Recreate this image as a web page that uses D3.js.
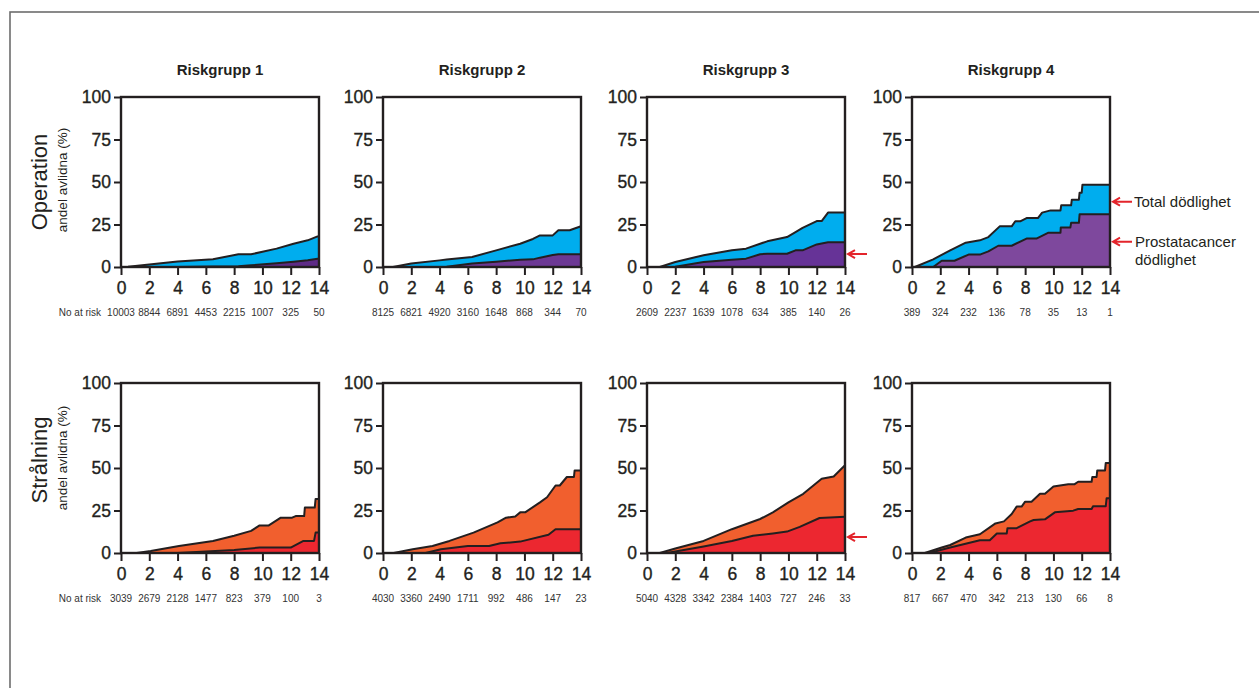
<!DOCTYPE html>
<html>
<head>
<meta charset="utf-8">
<script src="https://cdn.jsdelivr.net/npm/d3@7"></script>
<style>
  body { margin: 0; background: #fff; }
  svg { display: block; font-family: "Liberation Sans", Arial, sans-serif; }
</style>
</head>
<body>
<svg id="chart" width="1259" height="688"></svg>
<script>
const groups = ['Riskgrupp 1', 'Riskgrupp 2', 'Riskgrupp 3', 'Riskgrupp 4'];
const treatments = ['Operation', 'Strålning'];
const xTicks = [0, 2, 4, 6, 8, 10, 12, 14];
const yTicks = [0, 25, 50, 75, 100];

// numbers at risk at years 0,2,...,14
const opAtRisk = [
    [10003, 8844, 6891, 4453, 2215, 1007, 325, 50],
    [8125, 6821, 4920, 3160, 1648, 868, 344, 70],
    [2609, 2237, 1639, 1078, 634, 385, 140, 26],
    [389, 324, 232, 136, 78, 35, 13, 1]
];
const radAtRisk = [
    [3039, 2679, 2128, 1477, 823, 379, 100, 3],
    [4030, 3360, 2490, 1711, 992, 486, 147, 23],
    [5040, 4328, 3342, 2384, 1403, 727, 246, 33],
    [817, 667, 470, 342, 213, 130, 66, 8]
];

// Operation: total mortality (time, %)
const opTotalT = [
    [0, 0.5, 2, 4, 6.5, 8.3, 9.2, 11, 12.2, 13.2, 13.9, 14],
    [0, 0.7, 2, 4, 4.5, 6.3, 8, 9.7, 10.6, 11.1, 12, 12.4, 13.2, 14],
    [0, 0.9, 2, 4, 6, 7, 8, 8.5, 9.9, 10.5, 11, 12, 12.35, 12.8, 14],
    [0, 0.2, 1.5, 2.7, 3.8, 4.8, 5.4, 6.2, 7.05, 7.3, 7.65, 8.1, 8.9, 9.2, 9.8, 10.5, 10.55, 11.25, 11.3, 11.8, 11.85, 12.0, 12.05, 14]
];
const opTotalV = [
    [0, 0.2, 1.5, 3.2, 4.5, 7.5, 7.5, 10.8, 13.7, 15.7, 18, 18],
    [0, 0, 2, 3.9, 4.4, 5.9, 9.8, 13.7, 16.5, 18.6, 18.6, 21.6, 21.6, 24],
    [0, 0, 2.9, 6.9, 9.8, 10.8, 13.7, 15.1, 17.6, 20.5, 23, 27, 27, 32, 32],
    [0, 0, 4.5, 9.8, 14.3, 15.7, 17.6, 23.9, 23.9, 26.9, 26.9, 28.8, 28.8, 32, 33.3, 33.3, 36.3, 36.3, 39.6, 39.6, 43.7, 43.7, 48.4, 48.4]
];
// Operation: prostate cancer mortality
const opCancerT = [
    [0, 0.5, 2, 4, 6.5, 8.3, 9.2, 11, 12.2, 13.2, 13.9, 14],
    [0, 0.7, 2, 4, 4.5, 6.3, 8, 9.7, 10.6, 11.1, 12, 12.4, 13.2, 14],
    [0, 0.9, 2, 4, 6, 7, 8, 8.5, 9.9, 10.5, 11, 12, 12.35, 12.8, 14],
    [0, 1.5, 2.1, 3, 4, 4.8, 5.4, 6.1, 7.05, 8.1, 8.8, 9.65, 10.5, 10.52, 11.2, 11.25, 11.8, 11.85, 14]
];
const opCancerV = [
    [0, 0, 0, 0, 0.3, 0.5, 1, 2.2, 3.1, 4, 4.8, 4.8],
    [0, 0, 0, 0, 0.2, 2, 3.1, 4.3, 4.5, 5.5, 7, 7.5, 7.5, 7.5],
    [0, 0, 0.2, 2.9, 4.3, 4.9, 7.5, 7.8, 7.8, 9.8, 9.8, 13.3, 13.8, 14.5, 14.5],
    [0, 0, 3.7, 3.7, 7.3, 7.3, 9.2, 12.5, 12.5, 16.7, 16.7, 20.2, 20.2, 23.3, 23.3, 26, 26, 31, 31]
];

// Strålning: total mortality
const radTotalT = [
    [0, 1.1, 2.1, 4.1, 6.5, 8, 9.2, 9.8, 10.45, 11.3, 12.1, 12.35, 12.95, 13.0, 13.7, 13.76, 14],
    [0, 0.75, 2.1, 3.5, 4.7, 6.4, 8.1, 8.7, 9.35, 9.7, 10.05, 11.1, 11.6, 12.2, 12.5, 13, 13.5, 13.55, 14],
    [0, 0.9, 2, 4, 6, 8, 8.9, 10, 11.05, 12.35, 13.2, 14],
    [0, 0.9, 2.1, 2.7, 3.8, 4.8, 5.9, 6.5, 7.05, 7.4, 7.75, 8.0, 8.45, 9.05, 9.4, 10, 11.05, 11.5, 11.75, 12.7, 12.75, 13.05, 13.1, 13.65, 13.7, 14]
];
const radTotalV = [
    [0, 0, 1.2, 4.1, 7.1, 10.1, 13, 16.2, 16.2, 20.8, 20.8, 21.7, 21.7, 26.7, 26.7, 31.8, 31.8],
    [0, 0, 2.2, 4.1, 7.1, 12, 18, 20.8, 21.5, 23.9, 23.9, 29.8, 32.8, 39.7, 39.7, 44.7, 44.7, 48.6, 48.6],
    [0, 0, 2.6, 7.1, 14, 20, 23.9, 29.8, 34.8, 43.7, 45, 51.6],
    [0, 0, 3.2, 4.7, 9.1, 11, 17.4, 18.6, 22.9, 27.3, 27.3, 30.2, 30.2, 34.8, 34.8, 39.1, 40.5, 40.5, 41.9, 41.9, 44.7, 44.7, 48.6, 48.6, 53, 53]
];
// Strålning: prostate cancer mortality
const radCancerT = [
    [0, 4, 8, 9.8, 12, 12.9, 13.65, 13.76, 14],
    [0, 3, 4.1, 6, 7.5, 8.3, 9.7, 11.7, 12.2, 14],
    [0, 1.4, 4, 6, 7.5, 8.9, 9.9, 10.8, 12.2, 14],
    [0, 1.2, 2.7, 4.8, 5.5, 6.0, 6.7, 6.75, 7.4, 8.35, 8.6, 9.4, 10.1, 11.4, 11.75, 12.7, 12.8, 13.7, 13.76, 14]
];
const radCancerV = [
    [0, 0, 1.8, 3.2, 3.2, 7.1, 7.1, 12, 12],
    [0, 0, 2.2, 4.1, 4.1, 5.7, 6.7, 10.7, 14, 14],
    [0, 0, 3.8, 7.1, 10.1, 11.5, 12.6, 15.4, 20.6, 21.3],
    [0, 0, 3.2, 7.5, 7.5, 11.5, 11.5, 14.6, 14.6, 18.6, 19.4, 19.8, 23.9, 24.9, 25.9, 25.9, 27.5, 27.5, 32.2, 32.2]
];

// arrows: [row, col, value %]
const arrowMarks = [[0, 2, 7.6], [1, 2, 9.4], [0, 3, 38.4], [0, 3, 14.9]];

const totalColors = ['#00adee', '#f15f2e'];
const cancerColors = [['#5e2b86', '#6c3894', '#663397', '#7e489d'], ['#ec2730', '#ec2730', '#ec2730', '#ec2730']];
const ink = '#231f20';
const arrowRed = '#e3242b';

const svg = d3.select('#chart');
const colX = [121, 383, 647, 912], pw = 198;
const rowY = [97, 383], ph = 170;

svg.append('rect')
    .attr('x', 10).attr('y', 12)
    .attr('width', 1400).attr('height', 800)
    .attr('fill', 'none')
    .attr('stroke', '#6d6d6d')
    .attr('stroke-width', 1.6);

const rows = [
    {total: [opTotalT, opTotalV], cancer: [opCancerT, opCancerV], risk: opAtRisk},
    {total: [radTotalT, radTotalV], cancer: [radCancerT, radCancerV], risk: radAtRisk}
];

const scales = [];

rows.forEach((row, r) => {
    scales[r] = [];
    groups.forEach((g, c) => {
        let x = d3.scaleLinear().domain([0, 14]).range([colX[c], colX[c] + pw]);
        let y = d3.scaleLinear().domain([0, 100]).range([rowY[r] + ph, rowY[r]]);
        scales[r][c] = {x, y};

        let totalData = row.total[0][c].map((t, i) => [t, row.total[1][c][i]]);
        let cancerData = row.cancer[0][c].map((t, i) => [t, row.cancer[1][c][i]]);

        let area = d3.area().x(d => x(d[0])).y0(y(0)).y1(d => y(d[1]));
        let line = d3.line().x(d => x(d[0])).y(d => y(d[1]));

        svg.append('path').attr('d', area(totalData)).attr('fill', totalColors[r]);
        svg.append('path').attr('d', area(cancerData)).attr('fill', cancerColors[r][c]);
        [totalData, cancerData].forEach(dd => {
            svg.append('path').attr('d', line(dd))
                .attr('fill', 'none').attr('stroke', ink)
                .attr('stroke-width', 2).attr('stroke-linejoin', 'round');
        });

        svg.append('rect')
            .attr('x', x(0)).attr('y', y(100))
            .attr('width', pw).attr('height', ph)
            .attr('fill', 'none').attr('stroke', ink).attr('stroke-width', 2.4);

        let xAxis = d3.axisBottom(x).tickValues(xTicks).tickSize(8).tickPadding(7);
        let yAxis = d3.axisLeft(y).tickValues(yTicks).tickSize(7).tickPadding(3);

        let gx = svg.append('g').attr('transform', `translate(0, ${y(0)})`).call(xAxis);
        let gy = svg.append('g').attr('transform', `translate(${x(0)}, 0)`).call(yAxis);
        [gx, gy].forEach(ax => {
            ax.select('.domain').remove();
            ax.selectAll('line').attr('stroke', ink).attr('stroke-width', 2);
            ax.selectAll('text').attr('fill', ink)
                .attr('stroke', ink).attr('stroke-width', 0.35)
                .style('font-size', '17.5px')
                .style('font-family', '"Liberation Sans", Arial, sans-serif');
        });

        if (r === 0) {
            svg.append('text')
                .attr('x', x(7)).attr('y', 75)
                .attr('text-anchor', 'middle')
                .attr('font-weight', 'bold').attr('font-size', 15)
                .attr('fill', ink)
                .text(g);
        }

        svg.append('g').selectAll('text')
            .data(row.risk[c])
            .join('text')
            .attr('x', (d, i) => x(xTicks[i]))
            .attr('y', y(0) + 49)
            .attr('text-anchor', 'middle')
            .attr('font-size', 10)
            .attr('fill', '#333')
            .text(d => d);

        if (c === 0) {
            svg.append('text')
                .attr('x', 101).attr('y', y(0) + 49)
                .attr('text-anchor', 'end')
                .attr('font-size', 10)
                .attr('fill', '#333')
                .text('No at risk');
        }
    });

    let cy = r === 0 ? 182 : 460;
    svg.append('text')
        .attr('transform', `translate(47, ${cy}) rotate(-90)`)
        .attr('text-anchor', 'middle')
        .attr('font-size', 22).attr('fill', ink)
        .text(treatments[r]);
    svg.append('text')
        .attr('transform', `translate(67, ${cy - 2}) rotate(-90)`)
        .attr('text-anchor', 'middle')
        .attr('font-size', 13.5).attr('fill', ink)
        .text('andel avlidna (%)');
});

arrowMarks.forEach(a => {
    let s = scales[a[0]][a[1]];
    let x0 = s.x(14) + 3, yy = s.y(a[2]);
    svg.append('path')
        .attr('d', `M${x0 + 19},${yy}H${x0}M${x0 + 7},${yy - 4}L${x0},${yy}L${x0 + 7},${yy + 4}`)
        .attr('fill', 'none').attr('stroke', arrowRed).attr('stroke-width', 2);
});

let s4 = scales[0][3];
svg.append('text')
    .attr('x', 1134).attr('y', s4.y(38.4) + 5)
    .attr('font-size', 15).attr('fill', ink)
    .text('Total dödlighet');
svg.append('text')
    .attr('x', 1135).attr('y', s4.y(14.9) + 5)
    .attr('font-size', 15).attr('fill', ink)
    .text('Prostatacancer');
svg.append('text')
    .attr('x', 1135).attr('y', s4.y(14.9) + 23)
    .attr('font-size', 15).attr('fill', ink)
    .text('dödlighet');
</script>
</body>
</html>
